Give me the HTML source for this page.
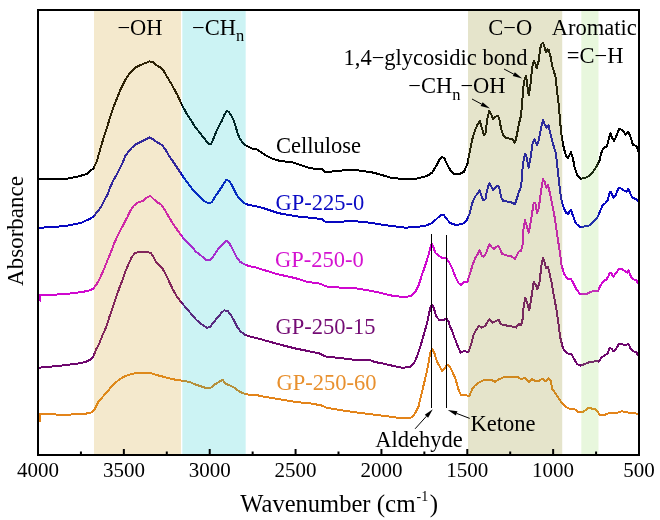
<!DOCTYPE html><html><head><meta charset="utf-8"><style>html,body{margin:0;padding:0;background:#fff;}svg{display:block;will-change:transform;}text{font-family:"Liberation Serif",serif;}</style></head><body>
<svg width="660" height="520" viewBox="0 0 660 520">
<rect x="0" y="0" width="660" height="520" fill="#fff"/>
<polyline fill="none" stroke="#000000" stroke-width="2" stroke-linejoin="round" shape-rendering="crispEdges" points="38.5,178.8 53.0,179.2 68.5,178.5 79.2,176.2 87.0,173.8 90.0,171.0 93.4,168.5 96.7,161.8 100.0,150.1 103.4,138.4 106.7,128.7 110.1,117.0 113.5,107.0 116.8,98.6 120.2,90.2 125.2,80.2 130.2,72.6 135.2,67.6 140.3,65.1 145.3,63.1 149.5,61.4 152.8,62.1 156.2,65.1 160.4,67.6 163.7,70.9 167.1,76.8 172.1,85.2 177.1,94.4 182.1,105.3 187.2,114.5 192.2,122.0 195.0,126.8 198.4,131.0 201.7,135.2 205.0,139.4 208.4,143.6 210.9,143.9 212.6,141.0 215.1,134.3 218.5,126.8 221.8,120.9 224.3,115.1 226.5,110.9 228.5,111.7 231.0,115.1 233.5,120.1 235.2,125.1 237.7,133.5 240.2,139.4 243.6,143.9 246.9,146.1 252.0,148.6 257.0,149.4 262.0,152.8 267.0,156.1 272.1,158.6 278.8,160.6 285.5,161.6 292.2,162.3 298.9,164.5 300.0,165.0 303.6,166.0 308.5,167.7 314.5,168.8 322.4,168.8 324.2,171.7 331.5,171.7 334.0,171.0 344.0,170.4 354.0,169.6 362.0,171.0 372.0,172.4 380.0,174.4 391.8,178.0 403.5,179.0 416.9,178.6 427.0,176.0 432.0,172.7 436.2,166.0 439.5,159.3 442.0,156.8 444.5,158.5 447.0,164.3 450.4,170.2 453.8,173.9 458.8,174.4 463.8,171.9 467.5,163.7 470.0,150.3 472.5,138.5 475.0,130.2 477.6,124.3 479.7,120.9 481.8,127.6 483.8,135.2 485.4,133.5 487.1,120.1 489.3,110.9 491.5,115.1 493.1,119.3 495.2,116.8 497.7,115.9 499.3,118.4 501.0,128.5 503.2,135.2 506.0,137.7 508.6,138.5 511.9,138.9 514.9,142.7 516.9,135.2 518.6,125.1 521.1,115.1 522.0,103.7 523.6,85.3 525.0,77.7 526.1,76.1 527.3,85.3 528.7,95.3 530.0,88.6 531.2,76.9 532.8,63.5 534.0,61.0 535.4,63.5 536.7,68.5 538.5,61.5 540.2,48.8 541.3,44.2 542.8,42.8 544.2,45.4 546.0,52.3 547.7,49.4 548.8,50.0 550.6,56.9 552.3,66.2 554.0,71.9 555.5,76.5 556.3,83.5 557.5,95.0 558.8,105.0 560.1,121.6 561.5,134.6 563.7,147.6 565.9,155.5 568.0,158.4 570.9,151.9 573.1,159.1 574.5,167.2 577.4,175.9 581.0,178.7 585.3,178.0 588.9,175.9 593.2,171.5 596.8,165.8 599.7,160.0 601.2,153.3 603.3,148.3 606.9,146.1 608.4,140.3 610.5,133.1 612.0,137.5 614.1,141.1 616.3,136.0 619.2,128.8 621.3,129.5 623.5,131.7 625.6,134.6 628.5,131.7 630.7,137.5 632.9,144.7 636.5,146.1 638.2,151.5"/>
<polyline fill="none" stroke="#0808C0" stroke-width="2" stroke-linejoin="round" shape-rendering="crispEdges" points="38.5,227.7 53.0,227.2 68.5,225.4 80.8,223.0 90.0,218.8 93.4,216.8 96.7,212.6 101.2,206.8 104.6,200.0 108.0,193.4 109.6,188.6 113.0,181.1 116.3,175.2 119.7,168.5 123.0,161.8 125.2,156.0 128.5,151.8 131.9,147.6 136.1,144.2 140.3,142.1 145.3,139.7 149.5,137.5 152.8,139.2 157.0,142.1 162.0,145.1 165.4,149.3 168.7,155.1 173.8,162.7 178.8,170.2 183.8,177.7 188.8,184.4 193.9,191.1 198.4,195.2 201.7,198.5 205.0,201.5 209.2,203.5 211.8,202.2 215.1,196.8 218.5,191.8 221.8,186.8 224.3,182.6 226.5,179.7 229.3,181.4 231.9,185.1 234.4,190.1 236.9,195.2 240.2,199.3 244.4,203.2 248.6,204.9 255.3,206.0 262.0,207.7 268.7,209.9 275.4,212.2 282.1,213.9 288.8,214.9 295.5,216.1 302.2,217.3 304.0,217.0 316.0,218.4 322.0,219.0 326.0,222.4 336.0,222.0 352.0,221.0 364.0,222.0 372.0,223.0 380.0,224.3 391.8,226.0 405.2,227.7 416.9,226.9 425.3,225.7 432.0,223.2 437.0,218.5 441.2,214.8 443.7,215.1 447.0,219.3 450.4,223.2 455.4,224.8 462.1,224.3 466.3,221.0 469.7,213.5 472.2,203.4 475.0,196.8 477.6,193.5 479.7,190.1 481.8,196.8 483.4,200.2 485.4,199.3 487.1,190.1 489.3,183.1 491.5,186.8 493.1,190.1 495.2,187.6 497.7,185.9 499.3,187.6 501.0,196.8 503.2,201.0 506.9,201.5 511.1,202.2 514.9,204.3 516.9,198.5 518.9,191.8 521.1,186.8 522.8,165.0 525.0,153.6 526.6,157.0 528.7,167.8 530.7,157.0 532.8,141.9 534.5,139.4 537.0,145.2 538.7,140.2 541.2,127.6 542.9,120.1 545.1,125.1 546.7,127.6 548.4,125.1 550.4,133.5 552.9,143.6 555.5,151.9 557.1,163.7 558.8,180.0 560.8,196.8 563.0,206.1 565.9,212.6 568.0,214.0 570.9,209.7 573.1,216.2 575.9,223.4 580.3,227.4 584.6,226.3 588.9,225.6 593.2,222.0 597.6,216.9 600.4,210.4 602.6,205.4 605.5,203.2 607.6,200.3 609.8,192.4 611.2,192.4 613.4,197.5 615.6,195.3 618.4,188.1 620.6,188.1 623.5,190.3 626.4,191.7 628.5,188.8 630.7,194.6 632.9,198.2 636.5,198.9 638.2,201.8"/>
<polyline fill="none" stroke="#CF08CF" stroke-width="2" stroke-linejoin="round" shape-rendering="crispEdges" points="39.6,301.5 40.2,295.0 50.0,295.0 67.5,293.8 82.5,292.0 90.0,290.2 93.4,288.5 96.7,284.3 100.6,276.8 104.0,269.0 107.4,260.6 110.7,252.5 114.1,243.6 117.4,236.1 120.8,229.4 124.1,223.5 127.5,216.8 130.2,210.9 133.6,205.9 138.6,202.1 142.8,200.9 147.0,197.5 150.3,195.9 153.7,199.2 157.0,202.1 161.2,204.7 164.5,209.3 168.7,216.8 173.8,225.2 178.8,231.9 183.8,238.6 188.8,243.6 193.9,248.6 195.0,250.9 198.4,253.5 202.5,256.8 205.9,259.8 209.2,260.5 211.8,258.5 215.1,253.5 218.5,248.4 221.8,245.1 224.3,242.6 226.5,240.9 229.3,243.4 231.9,247.6 234.4,252.6 236.9,257.6 240.2,261.8 244.4,264.3 248.6,266.0 255.3,267.2 262.0,269.4 268.7,271.5 275.4,273.6 282.1,275.2 288.8,276.6 295.5,278.2 302.2,280.3 308.0,282.0 320.0,283.6 326.0,286.4 340.0,287.6 356.0,288.4 372.0,291.0 380.0,292.7 391.8,295.6 401.8,296.9 410.2,296.4 415.2,291.9 418.6,285.2 421.9,275.1 425.3,265.1 428.6,255.0 431.1,244.4 432.4,244.4 435.3,252.8 438.7,255.7 442.0,257.8 446.2,257.8 448.7,261.7 452.1,268.0 455.4,276.8 458.8,283.5 461.3,285.2 463.8,282.2 467.2,282.5 470.0,273.5 472.5,265.1 475.0,258.4 477.6,254.2 479.7,250.4 481.8,255.9 483.8,256.8 485.9,253.4 489.3,244.2 491.8,247.5 494.3,249.2 496.5,246.7 498.5,245.9 500.5,250.0 502.2,254.0 505.2,254.7 507.7,255.9 511.1,256.4 514.9,258.8 516.9,255.1 518.6,251.7 521.1,250.9 522.8,243.4 523.3,230.3 525.0,220.3 526.6,225.3 528.7,232.8 530.8,221.9 533.7,202.7 535.4,203.5 537.0,212.7 538.7,208.5 541.2,190.1 542.9,179.2 544.6,181.7 546.2,187.6 547.9,185.1 549.6,191.8 552.1,203.5 554.6,216.9 556.8,232.0 558.8,245.4 560.5,257.1 561.5,265.3 564.4,274.7 568.0,279.0 570.9,279.0 573.1,282.6 575.9,288.4 580.3,294.5 586.0,294.2 590.3,292.0 594.7,290.6 598.3,290.6 600.4,285.5 603.3,281.2 606.2,279.8 608.4,276.2 609.8,272.6 611.2,273.3 613.4,276.6 616.3,272.6 619.2,268.5 622.0,269.0 624.9,271.1 627.1,272.6 628.5,270.0 630.7,276.2 632.9,279.0 636.5,280.5 638.2,283.4"/>
<polyline fill="none" stroke="#6E066E" stroke-width="2" stroke-linejoin="round" shape-rendering="crispEdges" points="38.8,367.7 48.0,366.9 58.1,366.0 68.2,364.8 78.2,363.5 84.9,362.2 89.9,359.8 93.3,356.8 95.8,350.1 99.3,343.4 102.2,336.0 106.1,327.1 109.4,317.0 112.8,307.0 116.1,296.9 119.5,287.7 122.8,279.3 125.2,271.8 128.5,264.2 131.9,256.7 135.2,253.0 138.6,252.0 143.6,252.0 147.8,252.0 151.1,253.4 153.7,257.5 156.2,262.6 159.5,265.1 162.9,269.3 166.2,275.1 169.6,282.7 173.1,290.0 176.5,295.9 181.5,302.6 186.5,308.4 191.6,314.3 196.6,320.2 201.6,324.3 206.6,327.7 210.0,327.2 213.3,322.7 217.5,317.6 221.7,312.6 224.2,310.4 227.6,310.9 230.9,315.1 234.3,321.0 237.6,327.7 241.0,331.9 245.2,334.9 250.2,336.6 256.9,338.2 260.0,339.0 272.0,342.4 284.0,345.6 296.0,348.6 308.0,351.0 320.0,353.6 325.0,356.4 340.0,358.0 356.0,360.0 370.0,360.2 376.0,362.4 380.0,362.7 391.8,365.6 401.8,367.7 409.4,367.2 413.6,363.9 416.9,356.9 420.3,346.8 423.6,335.1 427.0,323.4 430.3,307.8 432.0,304.4 433.7,307.8 436.2,316.2 439.5,320.4 443.7,320.4 446.2,318.3 448.7,322.0 450.4,327.5 452.1,330.4 453.8,335.9 457.1,344.3 460.5,352.7 463.8,351.0 468.4,351.9 470.9,345.2 473.4,335.1 475.9,330.1 479.2,325.9 481.8,327.6 485.1,325.9 489.3,319.2 492.6,322.6 496.0,320.9 498.5,319.7 501.0,324.2 504.4,325.1 508.6,325.9 513.6,326.8 516.1,327.6 518.6,324.2 521.1,325.1 522.8,318.4 523.6,307.0 525.3,297.8 527.0,302.0 529.2,310.4 531.2,298.6 533.7,281.9 535.7,284.4 537.4,289.4 539.5,281.9 541.7,263.5 543.1,257.6 544.6,262.6 546.2,268.5 547.9,266.8 549.6,273.5 551.8,283.6 553.8,295.3 556.3,308.7 558.0,320.0 560.1,336.8 563.0,348.3 565.9,351.9 568.7,354.1 571.6,354.1 574.5,359.8 577.4,364.2 580.3,365.6 584.6,364.2 588.9,362.4 594.7,361.3 599.0,361.6 601.9,357.0 604.8,355.5 607.6,353.4 609.8,348.0 611.7,349.0 613.4,351.2 616.3,348.3 619.2,343.7 622.0,344.0 624.9,345.4 628.5,344.0 630.7,349.0 633.6,351.2 636.5,352.6 638.2,355.5"/>
<polyline fill="none" stroke="#E3841A" stroke-width="2" stroke-linejoin="round" shape-rendering="crispEdges" points="39.6,422.0 40.2,413.8 48.0,413.8 63.1,415.1 76.5,414.1 88.3,413.4 92.4,412.1 95.0,408.7 98.3,402.0 103.3,396.2 108.4,390.3 113.4,384.4 118.4,380.3 123.4,376.9 128.5,374.9 133.5,373.6 138.5,372.7 148.0,372.6 153.0,373.8 158.0,375.4 164.8,377.1 171.5,379.0 178.2,380.1 184.9,381.0 189.9,382.1 194.9,384.3 199.9,386.0 205.0,387.7 210.8,387.7 215.0,384.3 219.2,381.8 222.5,379.8 225.9,383.8 230.1,385.5 234.3,387.7 238.5,391.0 242.6,393.2 246.8,394.4 251.9,394.9 258.0,395.3 260.0,396.0 272.0,398.0 284.0,400.0 296.0,402.0 312.0,403.6 322.0,405.6 326.0,407.6 340.0,410.0 356.0,412.4 372.0,414.4 388.0,416.4 400.0,418.0 409.0,418.4 412.5,417.0 415.5,412.5 418.5,406.5 421.1,395.4 424.4,382.0 427.8,366.9 430.3,352.7 432.3,348.8 434.5,353.5 437.0,361.9 440.4,367.7 442.0,371.1 444.5,368.6 447.0,364.9 449.6,366.1 452.1,371.1 455.4,378.6 458.8,390.4 461.3,395.4 465.0,394.6 469.2,396.3 472.5,388.7 475.0,385.4 478.4,382.9 481.8,381.2 485.1,379.5 489.3,379.5 492.6,380.4 495.2,382.0 498.5,379.5 503.5,377.3 508.6,377.0 513.6,377.0 518.3,377.0 521.1,379.5 524.5,377.8 527.0,380.4 529.5,382.0 532.0,379.0 535.4,381.2 538.7,381.2 542.1,378.7 545.4,381.2 548.8,378.3 550.8,381.2 552.1,388.7 555.5,393.5 558.8,398.5 562.2,403.5 565.5,406.9 569.7,408.9 574.5,409.2 578.1,411.8 581.7,412.5 585.3,410.3 588.2,407.8 591.8,408.6 595.4,408.9 597.6,411.8 599.7,414.7 604.8,414.7 609.1,413.2 613.4,412.9 617.7,412.7 622.0,411.1 624.9,412.1 629.3,412.7 633.6,412.9 638.2,413.9"/>
<line x1="431.5" y1="234" x2="431.5" y2="408" stroke="#000" stroke-width="1"/>
<line x1="446.5" y1="235" x2="446.5" y2="408" stroke="#000" stroke-width="1"/>
<rect x="94" y="11" width="87.0" height="443" fill="rgb(205, 155, 28)" fill-opacity="0.22"/>
<rect x="182.3" y="11" width="63.4" height="443" fill="rgb(0, 195, 200)" fill-opacity="0.2"/>
<rect x="468" y="11" width="94.2" height="443" fill="rgb(151, 147, 47)" fill-opacity="0.25"/>
<rect x="581.3" y="11" width="17.2" height="443" fill="rgb(140, 215, 85)" fill-opacity="0.2"/>
<rect x="38" y="10" width="601" height="445" fill="none" stroke="#000" stroke-width="2"/>
<line x1="80.93" y1="451.5" x2="80.93" y2="454" stroke="#000" stroke-width="2"/>
<line x1="123.86" y1="449" x2="123.86" y2="454" stroke="#000" stroke-width="2"/>
<line x1="166.79" y1="451.5" x2="166.79" y2="454" stroke="#000" stroke-width="2"/>
<line x1="209.71" y1="449" x2="209.71" y2="454" stroke="#000" stroke-width="2"/>
<line x1="252.64" y1="451.5" x2="252.64" y2="454" stroke="#000" stroke-width="2"/>
<line x1="295.57" y1="449" x2="295.57" y2="454" stroke="#000" stroke-width="2"/>
<line x1="338.50" y1="451.5" x2="338.50" y2="454" stroke="#000" stroke-width="2"/>
<line x1="381.43" y1="449" x2="381.43" y2="454" stroke="#000" stroke-width="2"/>
<line x1="424.36" y1="451.5" x2="424.36" y2="454" stroke="#000" stroke-width="2"/>
<line x1="467.29" y1="449" x2="467.29" y2="454" stroke="#000" stroke-width="2"/>
<line x1="510.21" y1="451.5" x2="510.21" y2="454" stroke="#000" stroke-width="2"/>
<line x1="553.14" y1="449" x2="553.14" y2="454" stroke="#000" stroke-width="2"/>
<line x1="596.07" y1="451.5" x2="596.07" y2="454" stroke="#000" stroke-width="2"/>
<text x="38.0" y="477" font-size="21" text-anchor="middle">4000</text>
<text x="123.9" y="477" font-size="21" text-anchor="middle">3500</text>
<text x="209.7" y="477" font-size="21" text-anchor="middle">3000</text>
<text x="295.6" y="477" font-size="21" text-anchor="middle">2500</text>
<text x="381.4" y="477" font-size="21" text-anchor="middle">2000</text>
<text x="467.3" y="477" font-size="21" text-anchor="middle">1500</text>
<text x="553.1" y="477" font-size="21" text-anchor="middle">1000</text>
<text x="639.0" y="477" font-size="21" text-anchor="middle">500</text>
<text x="240.3" y="512" font-size="25"><tspan textLength="130.2" lengthAdjust="spacingAndGlyphs">Wavenumber</tspan><tspan x="376.8">(cm</tspan><tspan font-size="14" dx="0.8" dy="-11">-1</tspan><tspan dx="1.6" dy="11">)</tspan></text>
<text transform="translate(23,231) rotate(-90)" font-size="23" text-anchor="middle">Absorbance</text>
<text x="275.9" y="153.2" font-size="22.5" fill="#000000">Cellulose</text>
<text x="275.6" y="210.2" font-size="22.5" fill="#0C0CC4">GP-225-0</text>
<text x="275" y="267.2" font-size="22.5" fill="#D412D0">GP-250-0</text>
<text x="275.4" y="334.2" font-size="22.5" fill="#740C74">GP-250-15</text>
<text x="276.6" y="390.4" font-size="22.5" fill="#E8902E">GP-250-60</text>
<text x="117.4" y="35.4" font-size="22.5">−OH</text>
<text x="192" y="35.4" font-size="22.5">−CH<tspan font-size="16.5" dy="6">n</tspan></text>
<text x="488.2" y="35.2" font-size="22.5">C−O</text>
<text x="551.8" y="35.4" font-size="22.5">Aromatic</text>
<text x="566.8" y="62.6" font-size="22.5">=C−H</text>
<text x="343.5" y="65.2" font-size="22.5">1,4−glycosidic bond</text>
<text x="408.2" y="93.0" font-size="22.5">−CH<tspan font-size="16.5" dy="7">n</tspan><tspan dy="-7">−OH</tspan></text>
<text x="375.2" y="447.0" font-size="22.5">Aldehyde</text>
<text x="470.4" y="431.4" font-size="22.5">Ketone</text>
<line x1="504" y1="69" x2="513.80" y2="74.17" stroke="#000" stroke-width="1"/><polygon points="522.2,78.6 512.77,76.11 514.82,72.22" fill="#000"/>
<line x1="472" y1="99" x2="481.62" y2="104.13" stroke="#000" stroke-width="1"/><polygon points="490,108.6 480.58,106.07 482.65,102.19" fill="#000"/>
<line x1="415.1" y1="428.8" x2="426.43" y2="416.25" stroke="#000" stroke-width="1"/><polygon points="432.8,409.2 428.07,417.73 424.80,414.78" fill="#000"/>
<line x1="469.7" y1="418.4" x2="456.67" y2="413.40" stroke="#000" stroke-width="1"/><polygon points="447.8,410 457.46,411.35 455.88,415.46" fill="#000"/>
</svg></body></html>
